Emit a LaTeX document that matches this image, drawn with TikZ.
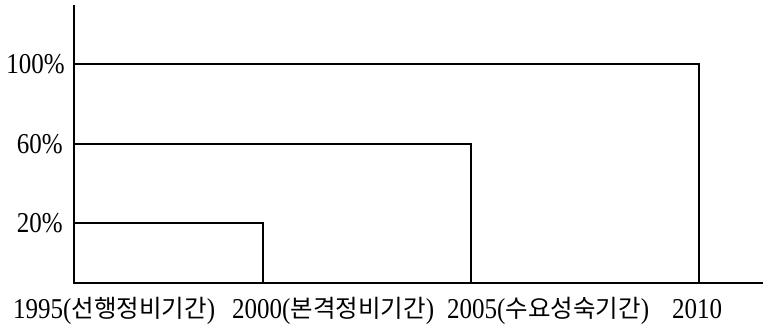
\documentclass[tikz,border=0pt]{standalone}
\usepackage{fontspec}
\usepackage{graphicx}
\setmainfont{Liberation Serif}
\newfontfamily\krfont{Noto Sans CJK KR}
\newcommand{\kr}[1]{{\krfont\fontsize{24.5}{26}\selectfont #1}}
\newcommand{\dg}[1]{\scalebox{1}[1.15]{#1}}
\begin{document}
\begin{tikzpicture}[x=1pt,y=1pt,
  chartline/.style={line width=1.1pt,black},
  ylab/.style={anchor=base east,inner sep=0pt,font=\fontsize{25}{27}\selectfont},
  xlab/.style={anchor=base west,inner sep=0pt,font=\fontsize{25}{27}\selectfont}]
\useasboundingbox (0,0) rectangle (763,324);
% axes
\coordinate (O) at (74,41);
\coordinate (Ytop) at (74,319);
\coordinate (Xend) at (763,41);
\draw[chartline] (Ytop) -- (O) -- (Xend);
% steps
\coordinate (a20) at (74,101);
\coordinate (b20) at (263,101);
\coordinate (c20) at (263,41);
\coordinate (a60) at (74,180);
\coordinate (b60) at (471,180);
\coordinate (c60) at (471,41);
\coordinate (a100) at (74,260);
\coordinate (b100) at (699,260);
\coordinate (c100) at (699,41);
\draw[chartline] (a20) -- (b20) -- (c20);
\draw[chartline] (a60) -- (b60) -- (c60);
\draw[chartline] (a100) -- (b100) -- (c100);
% y labels
\node[ylab] (l100) at (65,250.5) {\dg{100\%}};
\node[ylab] (l60) at (63,170.5) {\dg{60\%}};
\node[ylab] (l20) at (63,91.5) {\dg{20\%}};
% x labels
\node[xlab] (t1995) at (13,6) {\dg{1995(}\kr{선행정비기간}\dg{)}};
\node[xlab] (t2000) at (232,6) {\dg{2000(}\kr{본격정비기간}\dg{)}};
\node[xlab] (t2005) at (447,6) {\dg{2005(}\kr{수요성숙기간}\dg{)}};
\node[xlab] (t2010) at (672,6) {\dg{2010}};
\end{tikzpicture}
\end{document}
